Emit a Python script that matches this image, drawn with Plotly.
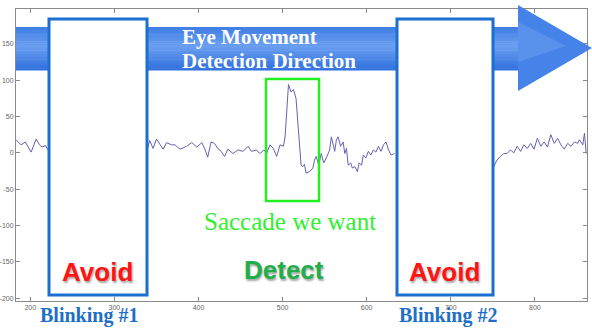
import plotly.graph_objects as go

# ---- data ----
seg1_x = [183, 186, 189, 194, 198, 201, 207, 211, 214, 218, 221]
seg1_y = [18, 14, 11, 15, 8, 1, 19, 11, 8, 10, 4]

seg2_x = [339, 342, 346, 350, 354, 358, 362, 368, 372, 378, 386, 392, 398, 404, 408, 411,
          415, 419, 423, 427, 431, 435, 441, 447, 453, 459, 463, 469, 473, 478,
          481, 485, 489, 493, 497, 501, 503, 506, 507, 510, 513, 516, 518, 520, 522, 524,
          526, 528, 532, 536, 538, 540, 543, 546, 549, 552, 556, 558, 560, 562, 564, 566,
          569, 572, 574, 576, 578, 581, 583, 586, 589, 591, 594, 596, 599, 602, 605, 608,
          611, 614, 617, 620, 623, 626, 629, 633]
seg2_y = [4, 17, 6, 19, 12, 5, 14, 11, 11, 5, 9, 14, 8, 14, 4, -6,
          15, 13, 6, 2, -5, 5, -1, 4, 2, 9, 2, 4, -1, 4,
          -1, 11, 6, -5, 11, 9, 22, 71, 94, 84, 87, 75, 43, 11, -17, -19,
          -16, -28, -26, -21, -10, -5, -17, -1, -14, -7, 4, 22, 13, 2, 18, 22,
          9, 15, -1, 6, -17, -14, -21, -19, -26, -14, -17, -3, -7, 2, -3, 4,
          1, 9, 2, 11, 15, 4, -3, -1]

seg3_x = [751, 755, 759, 763, 767, 771, 775, 779, 783, 787, 791, 795, 799, 803, 807,
          811, 815, 819, 823, 827, 831, 835, 839, 843, 847, 851, 853, 857, 859, 861]
seg3_y = [-19, -10, -5, -1, -1, 4, 0, 9, 2, 11, 6, 13, 5, 20, 9,
          15, 8, 25, 13, 20, 11, 5, 13, 9, 15, 13, 18, 11, 27, -1]

x_ticks = [200, 300, 400, 500, 600, 700, 800]
y_ticks = [-200, -150, -100, -50, 0, 50, 100, 150]
y_tick_labels = ["-200", "-150", "-100", "-50", "0", "50", "100", "150"]
x_range = [183, 862]
y_range = [-204, 198]

xs = seg1_x + [None] + seg2_x + [None] + seg3_x
ys = seg1_y + [None] + seg2_y + [None] + seg3_y

fig = go.Figure()
fig.add_trace(go.Scatter(x=xs, y=ys, mode="lines", connectgaps=False,
                         line=dict(color="#6661b2", width=1), hoverinfo="skip"))

W, H = 592, 329
L, R, T, B = 16, 5, 9, 28
PW, PH = W - L - R, H - T - B


def px(xp):
    return (xp - L) / PW


def py(yp):
    return (H - B - yp) / PH


def mix(c1, c2, t):
    a = [int(c1[i:i + 2], 16) for i in (1, 3, 5)]
    b = [int(c2[i:i + 2], 16) for i in (1, 3, 5)]
    return "#" + "".join(f"{round(a[k] + (b[k] - a[k]) * t):02x}" for k in range(3))


shapes = []
# arrow body with a vertical gradient
top, bot = 27, 70
n = 24
c_top, c_mid, c_bot = "#3f7de4", "#6a9ff0", "#2f6fdd"
for i in range(n):
    f = (i + 0.5) / n
    c = mix(c_top, c_mid, f / 0.45) if f < 0.45 else mix(c_mid, c_bot, (f - 0.45) / 0.55)
    y0 = top + (bot - top) * i / n
    y1 = top + (bot - top) * (i + 1) / n + 0.5
    shapes.append(dict(type="rect", xref="paper", yref="paper",
                       x0=px(16), x1=px(519), y0=py(y1), y1=py(y0),
                       fillcolor=c, line=dict(width=0), layer="above"))
# arrow head
head = f"M {px(518)},{py(5)} L {px(592)},{py(48)} L {px(518)},{py(91)} Z"
shapes.append(dict(type="path", xref="paper", yref="paper", path=head,
                   fillcolor="#4583e8", line=dict(width=0), layer="above"))
head2 = f"M {px(518)},{py(22)} L {px(566)},{py(46)} L {px(518)},{py(62)} Z"
shapes.append(dict(type="path", xref="paper", yref="paper", path=head2,
                   fillcolor="#6a9ff0", opacity=0.55, line=dict(width=0), layer="above"))

# blinking boxes
for x0, x1 in [(49, 147), (397, 493)]:
    shapes.append(dict(type="rect", xref="paper", yref="paper",
                       x0=px(x0), x1=px(x1), y0=py(295), y1=py(19),
                       fillcolor="white", line=dict(color="#1b6fcf", width=3), layer="above"))
# saccade box
shapes.append(dict(type="rect", xref="paper", yref="paper",
                   x0=px(266), x1=px(319), y0=py(201), y1=py(79),
                   fillcolor="rgba(0,0,0,0)", line=dict(color="#22ee22", width=2.5), layer="above"))

ann = []


def txt(t, xp, yp, size, color, family, bold=False, shadow=None, anchor="center"):
    s = f"<b>{t}</b>" if bold else t
    ann.append(dict(text=s, x=px(xp), y=py(yp), xref="paper", yref="paper",
                    showarrow=False, xanchor=anchor, yanchor="middle",
                    font=dict(size=size, color=color, family=family,
                              shadow=shadow if shadow else "none")))


serif = "Liberation Serif"
sans = "Liberation Sans"
sh = "1px 2px 2px rgba(0,0,0,0.35)"
txt("Eye Movement", 180, 37, 21, "white", serif, True, anchor="left")
txt("Detection Direction", 180, 61, 21, "white", serif, True, anchor="left")
txt("Saccade we want", 290, 222, 25, "#30f030", serif)
txt("Detect", 284, 270, 26, "#1fae48", sans, True, sh)
txt("Avoid", 98, 272, 26, "#ff1414", sans, True, sh)
txt("Avoid", 444, 272, 26, "#ff1414", sans, True, sh)
txt("Blinking #1", 89, 315, 20, "#1f6fc4", serif, True)
txt("Blinking #2", 448, 315, 20, "#1f6fc4", serif, True)

axis_common = dict(showgrid=False, zeroline=False, showline=True, linecolor="#8a8a8a",
                   linewidth=1, mirror="ticks", ticks="inside", ticklen=4, automargin=False,
                   tickcolor="#8a8a8a", tickfont=dict(size=7, color="#666666", family="Liberation Sans"))

fig.update_layout(
    width=W, height=H, margin=dict(l=L, r=R, t=T, b=B, autoexpand=False),
    paper_bgcolor="white", plot_bgcolor="white", showlegend=False,
    xaxis=dict(range=x_range, tickvals=x_ticks, **axis_common),
    yaxis=dict(range=y_range, tickvals=y_ticks, ticktext=y_tick_labels, **axis_common),
    shapes=shapes, annotations=ann,
)
fig.write_html("out.html", config={"displayModeBar": False},
               post_script="document.body.style.margin='0';document.body.style.overflow='hidden';")
